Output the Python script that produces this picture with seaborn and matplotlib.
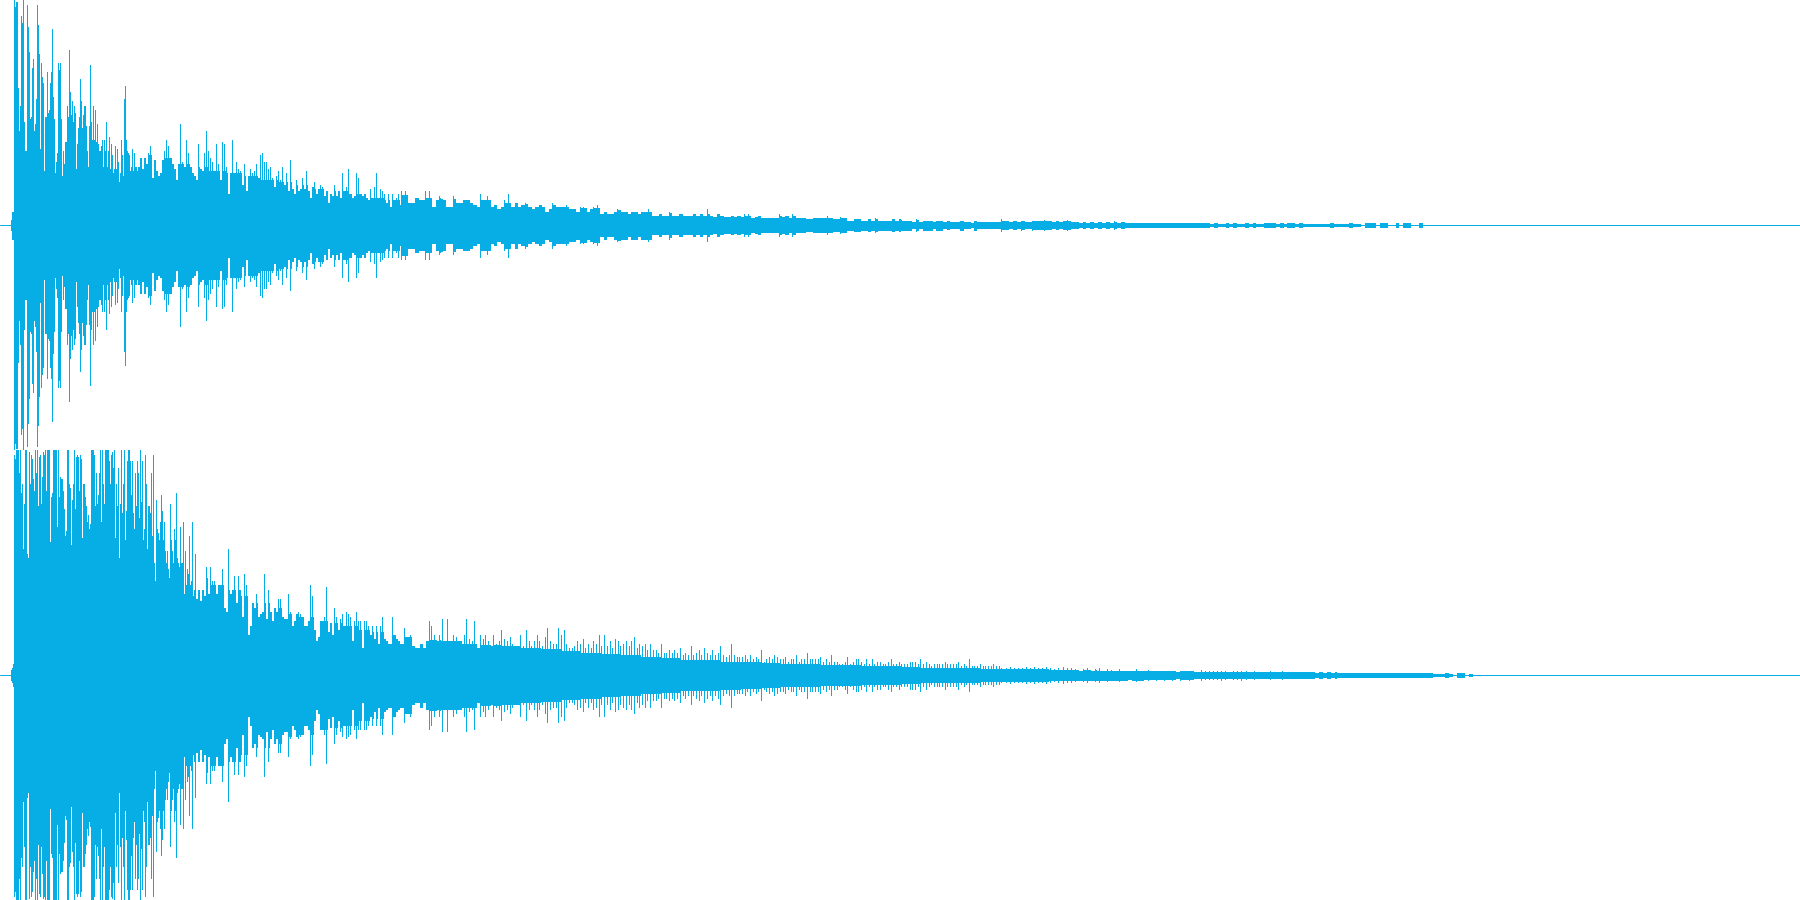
import numpy as np
import pandas as pd
import matplotlib
matplotlib.use("Agg")
import matplotlib.pyplot as plt
import seaborn as sns

WAVE_COLOR = "#07AEE6"

# Peak amplitude (percent of full scale). The waveform is
# mirrored around zero, so one envelope per channel is enough.
upper_attack = [2.4, 6, 6, 100, 97, 99, 99, 61, 42, 53, 93, 90, 100, 46, 33, 33, 98, 88, 77, 47, 48, 70, 74, 42, 45, 56,
    98, 89, 76, 34, 72, 66, 63, 24, 48, 48, 68, 50, 51, 63, 68, 87, 57, 47, 23, 28, 32, 72, 69, 72, 47, 22, 33, 27, 37,
    37, 53, 48, 78, 59, 49, 55, 46, 53, 50, 25, 36, 43, 48, 65, 55, 43, 49, 53, 53, 44, 33, 26, 44, 71, 46, 38, 53, 38,
    51, 37, 45, 36, 33, 33, 35, 38, 26, 38, 33, 46, 26, 33, 39, 25, 36, 31, 23, 25, 35, 25, 34, 28, 19, 23, 38, 31, 22,
    56, 62, 38, 33, 32, 31, 24, 26, 34, 24, 32, 26, 26, 24]
upper_body = [26, 30, 25, 30, 27, 32, 35, 21, 29, 24, 22, 23, 29, 33, 38, 35, 30, 27, 25, 20, 27, 45, 28, 26, 38, 32,
    26, 23, 22, 20, 36, 25, 24, 32, 42, 33, 30, 28, 24, 36, 27, 20, 37, 36, 26, 14, 23, 38, 23, 28, 25, 24, 18, 27, 15,
    22, 25, 23, 24, 27, 21, 31, 32, 28, 28, 25, 26, 21, 17, 22, 24, 20, 26, 18, 23, 15, 29, 16, 14, 20, 15, 16, 21, 16,
    24, 15, 12, 17, 19, 14, 16, 18, 17, 13, 15, 10, 14, 13, 18, 13, 15, 12, 23, 15, 17, 25, 14, 12, 13, 23, 21, 14, 13,
    14, 12, 11, 16, 12, 17, 23, 12, 16, 15, 14, 10, 14, 8, 14, 11, 12, 14, 9]
upper_decay = [15, 15, 10, 10, 12, 11, 11, 15, 15, 8, 11, 13, 11, 8, 8, 13, 10, 10, 11, 11, 10, 9, 8, 14, 11, 13, 8, 9,
    7, 8, 11, 14, 8, 10, 8, 9, 10, 8, 7, 8, 9, 8, 6, 7, 10, 8, 8, 8, 9, 7, 7, 6, 8, 8, 6, 7, 8, 9, 5, 6, 5, 5, 6, 7, 6,
    6, 5, 6, 6, 5, 6, 6, 7, 4, 4, 5, 4, 4, 6, 4, 4, 5, 4, 4, 4, 5, 4, 5, 4, 7, 4, 3.5, 5, 4, 3.5, 3.5, 4, 3.5, 4, 3.5,
    5, 5, 3, 3.5, 4, 3, 3, 3, 3, 3, 5, 3.5, 4, 3, 5, 3, 3, 3, 2.5, 2.5, 3, 3, 3, 3, 4, 3, 2.5, 2.5, 3.5, 3, 2, 2, 2.5,
    2.5, 2, 2, 2.5, 2, 3, 2, 2, 2, 2, 2.5, 2, 2.5, 2, 2, 2, 1.5, 2.5, 1.5, 2, 2, 2, 1.5, 2, 2, 1.5, 1.7, 1.5, 1.5, 1.5,
    2, 1.5, 1.5, 1, 2, 1.5, 1.5, 1.5, 1.5, 1.5, 1.5, 1.3]
upper_tail = [2.5, 1.6, 1.5, 1.6, 1.5, 2, 1.3, 1.5, 2, 1.6, 1.7, 2.2, 1.7, 1.3, 1.6, 1.2, 1.7, 2.2, 1.5, 1.3, 1, 1.5,
    1, 1.2, 1, 1.5, 1, 1.5, 0.8, 1.6, 0.8, 1.2, 0.8, 0.8, 1, 0.8, 1, 0.8, 0.8, 0.7, 1, 0.7, 1, 0.7, 0.7, 0.8, 0.7, 0.9,
    0.7, 1, 0.7, 0.7, 0.8, 0.7, 0.5, 0.7, 0.5, 0.6, 0.7, 0.5, 0.7, 0.5, 0.5, 0.7, 0.5, 0.7, 0.5, 0.4, 0.7, 0.7, 0.7, 0.4,
    0.7, 0.4, 0.7, 0.7, 0.4, 0.7, 0.4, 0.5, 0.5, 0.5, 0.5, 0.5, 0.5, 0.7, 0.5, 0.5, 0.5, 0.5, 0.7, 0.5, 0.5, 0.2, 0.7,
    0.7, 0.7, 0.2, 0.7, 0.7, 0.2, 0.2, 0.7, 0.2, 0.7, 0.7, 0.2, 0.2, 0.7, 0.2]

lower_attack = [2.4, 3.3, 5, 98, 96, 100, 100, 100, 90, 100, 81, 85, 56, 76, 100, 100, 54, 52, 99, 85, 98, 96, 87, 82,
    100, 90, 100, 75, 97, 98, 76, 88, 99, 98, 100, 82, 100, 100, 100, 59, 79, 81, 100, 100, 100, 100, 66, 100, 79, 88,
    87, 87, 82, 74, 62, 64, 100, 100, 85, 83, 58, 78, 85, 100, 74, 97, 98, 97, 82, 98, 96, 61, 85, 85, 79, 75, 68, 71,
    65, 67, 100, 100, 100, 98, 75, 90, 76, 80, 90, 100, 68, 100, 85, 76, 100, 100, 100, 100, 95, 85, 98, 99, 92, 100,
    61, 85, 75, 92, 52, 76, 100, 72, 85, 100, 60, 73, 95, 100, 100, 95, 80, 95, 72, 65, 90, 75, 95, 90, 70, 100, 77, 95,
    60, 65, 98, 85, 56, 75, 75, 72, 90, 62, 98, 50, 42, 78, 65, 63, 60, 68, 80, 73, 60, 68, 55, 50, 55, 47, 43, 76, 60,
    55, 50, 65, 60, 81, 52, 50, 48, 66, 50, 50, 68, 36, 55, 40, 47, 45, 62, 40, 42, 68, 35, 38, 54]
lower_body = [34, 38, 33, 38, 35, 48, 36, 48, 42, 42, 36, 40, 40, 47, 30, 28, 56, 36, 38, 44, 32, 44, 38, 26, 45, 40,
    18, 22, 32, 30, 36, 26, 27, 28, 45, 25, 38, 28, 24, 30, 28, 34, 34, 26, 25, 25, 36, 28, 22, 24, 27, 28, 27, 26, 22,
    22, 24, 40, 35, 20, 15, 17, 24, 24, 26, 39, 19, 23, 18, 30, 26, 20, 25, 27, 22, 28, 27, 26, 15, 24, 28, 24, 24, 12,
    24, 24, 22, 18, 22, 16, 22, 14, 22, 26, 16, 15, 14, 14, 26, 18, 16, 15, 14]
lower_decay = [14, 21, 17, 18, 13, 12, 12, 14, 12, 15, 24, 22, 18, 15, 18, 25, 15, 25, 15, 18, 17, 15, 15, 18, 25, 16,
    15, 24, 12, 18, 16, 18, 15, 13, 18, 14, 15, 20, 16, 15, 17, 14, 13, 13, 18, 13, 20, 15, 13, 15, 18, 15, 13, 17, 21,
    15, 14, 14, 21, 18, 20, 14, 12, 12, 13, 15, 14, 16, 12, 14, 12, 15, 14, 18, 13, 18, 13, 15, 12, 16, 15, 13, 14, 15,
    13, 15, 17, 12, 14, 13, 14, 11, 14, 11, 11, 10, 14, 10, 10, 11, 10, 11, 10, 12, 9, 10, 9, 13, 9, 10, 11, 9, 12, 10,
    9, 11, 9, 10, 13, 9, 8, 9, 14, 9, 8, 8, 8, 9, 7, 9, 7, 8, 7, 11, 6, 7, 8, 7, 9, 8, 7, 7, 8, 6, 7, 7, 9, 6, 7, 7, 10,
    7, 7, 7, 7, 8, 6, 7, 6, 9, 6, 6, 5, 5, 6, 8, 5, 6, 7, 7, 6, 5, 7, 5, 7, 5, 6, 6, 5, 5, 6, 7, 5, 5, 6, 5, 5, 5, 6, 6,
    6, 5, 7, 5, 6, 5, 4, 5, 5, 5, 5, 6, 5, 5, 5, 5, 6, 4, 5, 4, 7, 4, 4, 4, 5, 4, 4, 4, 4, 5, 4, 4]
lower_tail = [3, 3, 3.5, 3, 3, 3, 3.5, 3, 3.5, 3, 3, 3.5, 3, 2.5, 3, 3.5, 3, 3, 2.5, 2, 2.5, 3, 2, 2.5, 3, 2, 2.5,
    2.2, 2, 2.5, 2, 1.8, 2, 2.5, 2, 1.8, 2.2, 1.8, 2, 1.8, 2, 1.8, 2, 1.5, 2, 1.8, 2, 1.8, 1.5, 2.2, 1.6, 1.8, 1.8, 1.6,
    2, 1.7, 1.5, 1.6, 1.7, 2, 1.6, 1.4, 1.7, 1.3, 1.5, 1.4, 1.7, 1.3, 1.4, 1.7, 1.4, 1.2, 1.4, 1.2, 1.5, 1.2, 1.4, 1,
    1.2, 1, 1.2, 1, 1.2, 1, 1, 0.8, 1, 0.8, 1, 0.8, 0.8, 0.8, 1, 0.7, 0.7, 0.8, 0.7, 0.7, 0.7, 0.8, 0.7, 0.7, 0.7,
    0.7, 0.7, 0.7, 0.5, 0.5, 0.5, 0.7, 0.4, 0.2, 0.7, 0.7, 0.2, 0.5, 0.2, 0.2]

# Upper edge of the dense band under the isolated spikes, also.
upper_body_solid = [31, 30, 27, 26, 24, 23, 22, 20, 19, 18, 16, 15, 14, 12, 11]
upper_decay_solid = [13.5, 12, 11.5, 11, 11, 10, 9.5, 8.8, 8, 7.4, 6.8, 6, 6, 5.4, 5.1, 4.7, 4.5, 4, 4, 3.8, 3.5, 3.2,
    3, 2.7, 2.7, 2.4, 2.3, 2.2, 2, 1.9]
upper_tail_solid = [1.9, 1.6, 1.4, 1.2, 1.1, 1, 1, 1, 1]
lower_body_solid = [43, 40, 38, 35, 32, 30, 27, 26, 24, 23, 22, 20, 19, 18]
lower_decay_solid = [17, 15.5, 15, 14, 13.5, 12.8, 12, 11.5, 10.8, 10, 9.5, 8.8, 8, 7.4, 6.8, 6.5, 6, 5.7, 5.4, 5.1, 4.7,
    4.5, 4.3, 4, 3.8, 3.5, 3.2, 3.1, 3, 2.7]
lower_tail_solid = [2.7, 2.4, 2, 1.8, 1.5, 1.4, 1.2, 1.1, 1, 1]

top_segments = [(upper_attack, None, 10, 137), (upper_body, upper_body_solid, 137, 400),
                (upper_decay, upper_decay_solid, 400, 1000), (upper_tail, upper_tail_solid, 1000, 1425)]
bottom_segments = [(lower_attack, None, 10, 195), (lower_body, lower_body_solid, 195, 400),
                   (lower_decay, lower_decay_solid, 400, 1000), (lower_tail, lower_tail_solid, 1000, 1480)]


def waveform_table(segments):
    frames = []
    for values, solid, start, stop in segments:
        values = np.asarray(values, dtype=float)
        cols = np.arange(start, stop)
        span = stop - start
        bins = (cols - start) * len(values) // span
        peaks = values[bins]
        solid = np.asarray(solid, dtype=float) if solid is not None else None
        if solid is not None:
            levels = solid[(cols - start) * len(solid) // span]
            # Each bin's peak stands on one column; the others stay in the dense band.
            first = np.r_[True, bins[1:] != bins[:-1]]
            peaks = np.where(first, peaks, np.minimum(peaks, levels))
        frames.append(pd.DataFrame({"column": cols, "peak": peaks}))
    table = pd.concat(frames, ignore_index=True)
    table["time"] = table["column"] + 0.5
    pos = table.assign(level=table["peak"])
    neg = table.assign(level=-table["peak"])
    return pd.concat([pos, neg], ignore_index=True).sort_values(["column", "level"])


sns.set_theme(style="white")
fig = plt.figure(figsize=(18, 9), dpi=100, facecolor="white")
ax_top = fig.add_axes([0, 0.5, 1, 0.5])
ax_bottom = fig.add_axes([0, 0, 1, 0.5])

for ax, segments in ((ax_top, top_segments), (ax_bottom, bottom_segments)):
    sns.lineplot(x=[0, 1800], y=[0, 0], color=WAVE_COLOR, linewidth=0.72, ax=ax, errorbar=None)
    sns.lineplot(data=waveform_table(segments), x="time", y="level", units="column", estimator=None,
                 color=WAVE_COLOR, linewidth=0.72, antialiased=False, solid_capstyle="butt", ax=ax)
    ax.set_xlim(0, 1800)
    ax.set_ylim(-100, 100)
    ax.set_axis_off()

fig.savefig("out.png", dpi=100, facecolor="white")
